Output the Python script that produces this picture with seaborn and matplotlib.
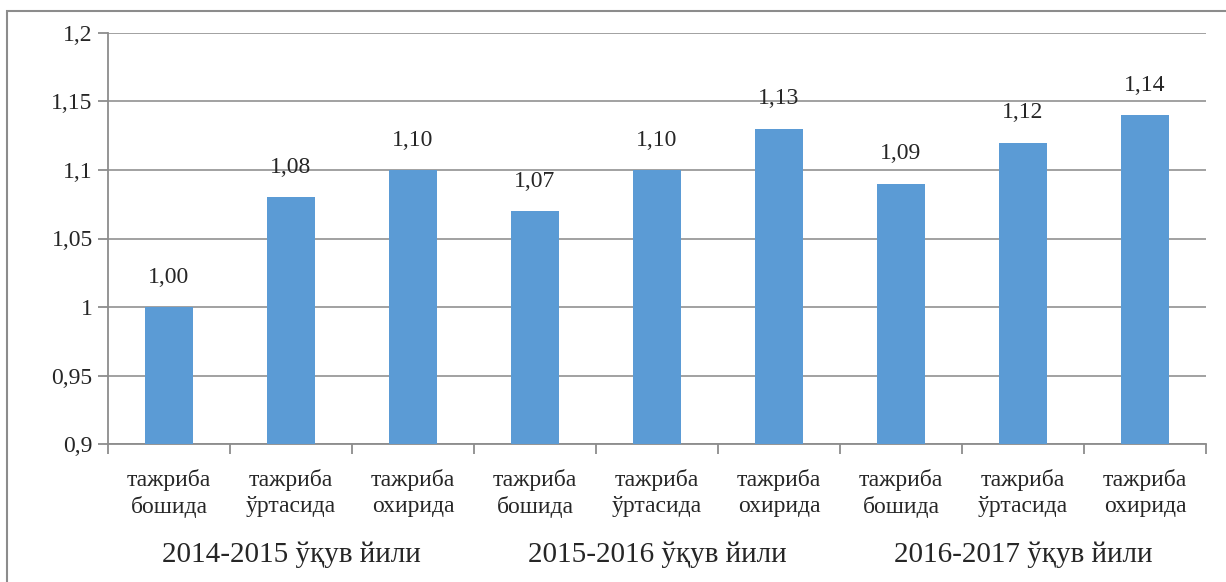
import numpy as np
import pandas as pd
import matplotlib
matplotlib.use("Agg")
import matplotlib.pyplot as plt
from matplotlib.patches import Rectangle
from matplotlib.ticker import FuncFormatter
import seaborn as sns

years = ["2014-2015 ўқув йили", "2015-2016 ўқув йили", "2016-2017 ўқув йили"]
stages = ["тажриба\nбошида", "тажриба\nўртасида", "тажриба\nохирида"]
values = [1.00, 1.08, 1.10, 1.07, 1.10, 1.13, 1.09, 1.12, 1.14]

sns.set_theme(style="whitegrid")
plt.rcParams['font.family'] = ['Liberation Serif', 'DejaVu Serif']

keys = [f"{y}|{s}" for y in years for s in stages]
df = pd.DataFrame({"key": keys, "value": values})

fig = plt.figure(figsize=(12.26, 5.82), dpi=100)
ax = fig.add_axes([108 / 1226, 1 - 444 / 582, (1206 - 108) / 1226, (444 - 33) / 582])

sns.barplot(data=df, x="key", y="value", color="#5B9BD5", width=0.39,
            saturation=1, linewidth=0, ax=ax, zorder=3)

ax.set_ylim(0.9, 1.2)
ax.set_yticks(np.arange(0.9, 1.2001, 0.05))
ax.yaxis.set_major_formatter(FuncFormatter(lambda v, p: f"{v:.3g}".replace(".", ",")))
ax.set_xlim(-0.5, len(values) - 0.5)
ax.set_xticks(range(len(values)))
ax.set_xticklabels([s for y in years for s in stages], fontsize=17, linespacing=1.3)
ax.set_xticks(np.arange(-0.5, len(values), 1), minor=True)
ax.tick_params(axis="x", which="major", length=0, pad=18)
ax.tick_params(axis="x", which="minor", length=7, width=1.3, color="#8C8C8C", bottom=True)
ax.tick_params(axis="y", length=7, width=1.3, color="#8C8C8C", left=True, labelsize=17, pad=4)
ax.set_xlabel("")
ax.set_ylabel("")

ax.grid(axis="x", visible=False)
ax.grid(axis="y", color="#9A9A9A", linewidth=1.3)
for side in ["top", "right"]:
    ax.spines[side].set_visible(False)
for side in ["left", "bottom"]:
    ax.spines[side].set_color("#8C8C8C")
    ax.spines[side].set_linewidth(1.3)

labels = [f"{v:.2f}".replace(".", ",") for v in values]
ax.bar_label(ax.containers[0], labels=labels, padding=14, fontsize=17)

for i, y in enumerate(years):
    ax.text(i * 3 + 1, -(555 - 444) / 411, y, transform=ax.get_xaxis_transform(),
            ha="center", va="center", fontsize=21)

fig.patches.append(Rectangle((7 / 1226, -0.1), 1.2, 1.1 - 11 / 582, transform=fig.transFigure,
                             fill=False, edgecolor="#8C8C8C", linewidth=1.5, figure=fig))

fig.savefig("out.png", dpi=100)
